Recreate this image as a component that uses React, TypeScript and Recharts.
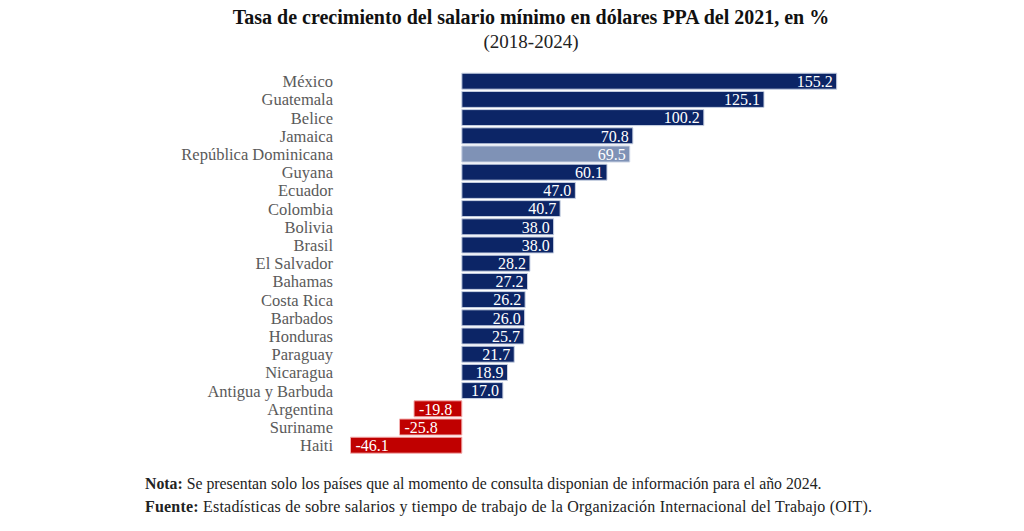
import React from "react";
import { BarChart, Bar, XAxis, YAxis, Cell, LabelList } from "recharts";

const countries = [
  "México", "Guatemala", "Belice", "Jamaica", "República Dominicana", "Guyana",
  "Ecuador", "Colombia", "Bolivia", "Brasil", "El Salvador", "Bahamas",
  "Costa Rica", "Barbados", "Honduras", "Paraguay", "Nicaragua",
  "Antigua y Barbuda", "Argentina", "Suriname", "Haiti",
];
const growth = [
  155.2, 125.1, 100.2, 70.8, 69.5, 60.1, 47.0, 40.7, 38.0, 38.0, 28.2, 27.2,
  26.2, 26.0, 25.7, 21.7, 18.9, 17.0, -19.8, -25.8, -46.1,
];
const highlighted = ["República Dominicana"];

const title = "Tasa de crecimiento del salario mínimo en dólares PPA del 2021, en %";
const subtitle = "(2018-2024)";
const noteLabel = "Nota:";
const noteText = " Se presentan solo los países que al momento de consulta disponian de información para el año 2024.";
const sourceLabel = "Fuente:";
const sourceText = " Estadísticas de sobre salarios y tiempo de trabajo de la Organización Internacional del Trabajo (OIT).";

const data = countries.map((name, i) => ({ name, value: growth[i] }));

const NAVY = "#0c2566";
const LIGHT = "#7f92b6";
const RED = "#c00000";
const FONT = "'Liberation Serif', 'Times New Roman', serif";

const ValueLabel = (props: any) => {
  const { x, y, width, height, value } = props;
  const left = Math.min(x, x + width);
  const right = Math.max(x, x + width);
  const neg = value < 0;
  return (
    <text
      x={neg ? left + 5 : right - 4}
      y={y + height / 2}
      dy="0.36em"
      textAnchor={neg ? "start" : "end"}
      fill="#ffffff"
      fontSize={16}
      fontFamily={FONT}
    >
      {Number(value).toFixed(1)}
    </text>
  );
};

export default function App() {
  return (
    <div style={{ position: "relative", width: 1024, height: 531, background: "#fff", fontFamily: FONT }}>
      <style>{`body{margin:0}`}</style>
      <div style={{ position: "absolute", left: 131, width: 800, top: 5, textAlign: "center", fontSize: 20, fontWeight: "bold", color: "#111", lineHeight: "24px" }}>
        {title}
      </div>
      <div style={{ position: "absolute", left: 131, width: 800, top: 31, textAlign: "center", fontSize: 19, color: "#222", lineHeight: "22px" }}>
        {subtitle}
      </div>
      <BarChart
        layout="vertical"
        width={1024}
        height={531}
        data={data}
        margin={{ top: 72.2, bottom: 76.6, left: 0, right: 187.3 }}
        style={{ position: "absolute", left: 0, top: 0 }}
      >
        <XAxis type="number" hide domain={[-46.1, 155.2]} />
        <YAxis
          type="category"
          dataKey="name"
          width={350.5}
          tickLine={false}
          axisLine={false}
          tickMargin={11.5}
          interval={0}
          tick={{ fill: "#5a5a5a", fontSize: 16.5, fontFamily: FONT }}
        />
        <Bar dataKey="value" barSize={16} isAnimationActive={false}>
          {data.map((d) => (
            <Cell
              key={d.name}
              fill={d.value < 0 ? RED : highlighted.includes(d.name) ? LIGHT : NAVY}
              stroke={d.value < 0 ? "#f3b0b0" : "#c9d2e4"}
              strokeWidth={1}
            />
          ))}
          <LabelList dataKey="value" content={ValueLabel} />
        </Bar>
      </BarChart>
      <div style={{ position: "absolute", left: 145, top: 473, fontSize: 15.8, color: "#222", lineHeight: "22px", whiteSpace: "nowrap" }}>
        <b>{noteLabel}</b>{noteText}
      </div>
      <div style={{ position: "absolute", left: 145, top: 496, fontSize: 16, letterSpacing: 0.2, color: "#222", lineHeight: "22px", whiteSpace: "nowrap" }}>
        <b>{sourceLabel}</b>{sourceText}
      </div>
    </div>
  );
}
